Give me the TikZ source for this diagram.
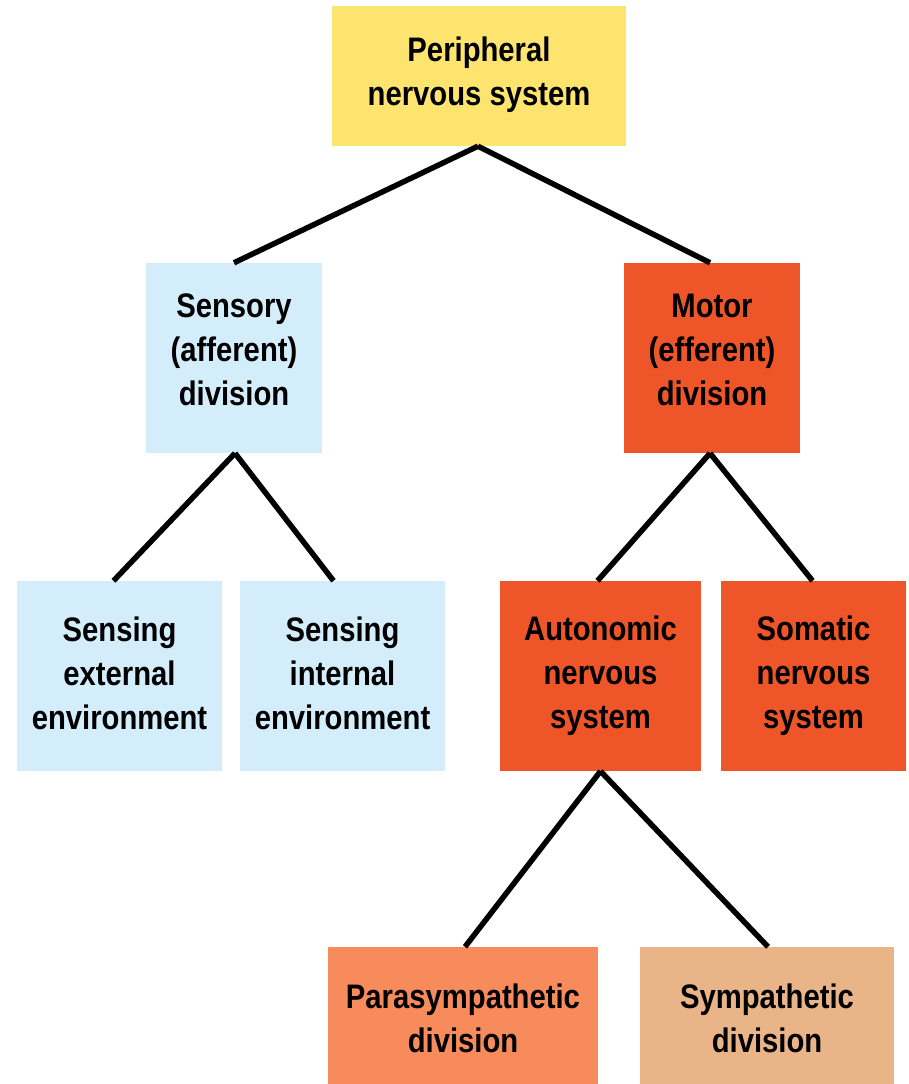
\documentclass[tikz,border=0pt]{standalone}
\usepackage{fontspec}
\newfontfamily\boxfont[FakeStretch=0.86]{Liberation Sans}
\usepackage{xcolor}
\usepackage{tikz}
\usetikzlibrary{positioning}
\definecolor{pnsyellow}{HTML}{FCE46E}
\definecolor{sensblue}{HTML}{D4EDFB}
\definecolor{motorred}{HTML}{EE5528}
\definecolor{parasalmon}{HTML}{F78B5B}
\definecolor{symptan}{HTML}{E9B487}
\tikzset{
  box/.style={inner sep=0pt,align=center,font=\boxfont\bfseries\fontsize{34}{44}\selectfont,text=black},
  branch/.style={line width=5.5pt,color=black},
}
\begin{document}
\begin{tikzpicture}[x=1pt,y=-1pt]
  \useasboundingbox (0,0) rectangle (909,1084);
  \clip (0,0) rectangle (909,1084);
  % top level
  \node[box,fill=pnsyellow,minimum width=294pt,minimum height=140pt,text depth=10pt] (pns) at (479,76)
    {Peripheral\\nervous system};
  % divisions
  \node[box,fill=sensblue,minimum width=176pt,minimum height=190pt,text depth=16pt] (sensory) at (234,358)
    {Sensory\\(afferent)\\division};
  \node[box,fill=motorred,minimum width=176pt,minimum height=190pt,text depth=16pt] (motor) at (712,358)
    {Motor\\(efferent)\\division};
  % sensory branches
  \node[box,fill=sensblue,minimum width=205pt,minimum height=190pt,text depth=5pt] (external) at (119.5,676)
    {Sensing\\external\\environment};
  \node[box,fill=sensblue,minimum width=205pt,minimum height=190pt,text depth=5pt] (internal) at (342.5,676)
    {Sensing\\internal\\environment};
  % motor branches
  \node[box,fill=motorred,minimum width=201pt,minimum height=190pt] (autonomic) at (600.5,676)
    {Autonomic\\nervous\\system};
  \node[box,fill=motorred,minimum width=185pt,minimum height=190pt] (somatic) at (813.5,676)
    {Somatic\\nervous\\system};
  % autonomic branches
  \node[box,fill=parasalmon,minimum width=270pt,minimum height=150pt,text depth=8pt] (para) at (463,1022)
    {Parasympathetic\\division};
  \node[box,fill=symptan,minimum width=254pt,minimum height=150pt,text depth=8pt] (symp) at (767,1022)
    {Sympathetic\\division};
  % connectors
  \draw[branch] ([xshift=-1pt]pns.south) -- (sensory.north);
  \draw[branch] ([xshift=-1pt]pns.south) -- ([xshift=-2pt]motor.north);
  \draw[branch] ([xshift=1pt]sensory.south) -- ([xshift=-6pt]external.north);
  \draw[branch] ([xshift=1pt]sensory.south) -- ([xshift=-9pt]internal.north);
  \draw[branch] ([xshift=-2pt]motor.south) -- ([xshift=-3pt]autonomic.north);
  \draw[branch] ([xshift=-2pt]motor.south) -- ([xshift=-1pt]somatic.north);
  \draw[branch] (autonomic.south) -- ([xshift=2pt]para.north);
  \draw[branch] (autonomic.south) -- ([xshift=1pt]symp.north);
\end{tikzpicture}
\end{document}
